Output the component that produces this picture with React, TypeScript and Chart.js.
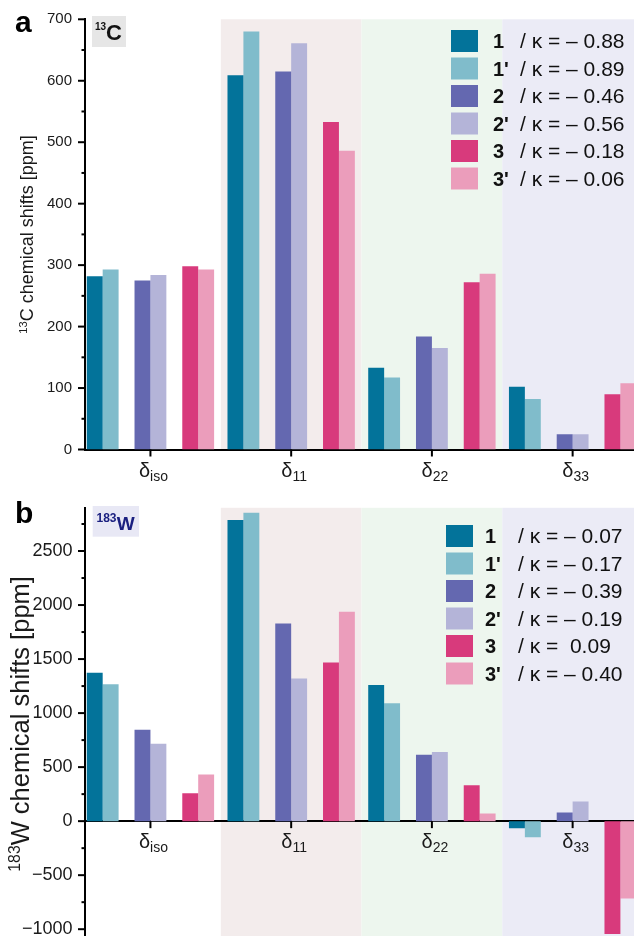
import React, { useEffect, useRef } from 'react';
import { Chart, registerables } from 'chart.js';

Chart.register(...registerables);

const FONT = '"Liberation Sans", Arial, Helvetica, sans-serif';

// ---- data ----
const categories = ['iso', '11', '22', '33'];
const seriesLabels = ['1', "1'", '2', "2'", '3', "3'"];
const seriesColors = ['#03739a', '#80bccb', '#6468b0', '#b4b4d8', '#d83a7c', '#eb9dbb'];
const bandColors = ['#f3ecec', '#edf6ee', '#ebebf6'];

// panel a: 13C
const carbon1 = [282, 609, 133, 102];
const carbon1p = [293, 680, 117, 82];
const carbon2 = [275, 615, 184, 25];
const carbon2p = [284, 661, 165, 25];
const carbon3 = [298, 533, 272, 90];
const carbon3p = [293, 486, 286, 108];
const carbonKappa = ['– 0.88', '– 0.89', '– 0.46', '– 0.56', '– 0.18', '– 0.06'];
const carbonTicks = [0, 100, 200, 300, 400, 500, 600, 700];

// panel b: 183W
const tungsten1 = [1373, 2787, 1259, -65];
const tungsten1p = [1266, 2855, 1090, -148];
const tungsten2 = [845, 1830, 614, 80];
const tungsten2p = [716, 1321, 639, 181];
const tungsten3 = [259, 1469, 333, -1044];
const tungsten3p = [431, 1938, 71, -716];
const tungstenKappa = ['– 0.07', '– 0.17', '– 0.39', '– 0.19', ' 0.09', '– 0.40'];
const tungstenTicks = [-1000, -500, 0, 500, 1000, 1500, 2000, 2500];

type PanelSpec = {
  key: 'a' | 'b';
  series: number[][];
  kappa: string[];
  yTicks: number[];
  minorStep: number;
  yMin: number;
  yMax: number;
  canvasHeight: number;
  padTop: number;
  xAxisHeight: number;
  tickSize: number;
  tickPad: number;
  title: { sup: string; main: string; size: number; cx: number };
  nucleus: { sup: string; main: string; box: [number, number, number, number]; boxColor: string; color: string; supX: number; supY: number; mainX: number; mainY: number; supSize: number; mainSize: number };
  letterY: number;
  legend: { boxX: number; numX: number; textX: number; y0: number };
};

function fmtNum(v: number) {
  return v < 0 ? '\u2212' + Math.abs(v) : String(v);
}

function makeDatasets(series: number[][]) {
  const order = [0, 1, -1, 2, 3, -1, 4, 5];
  return order.map((k, j) => ({
    label: k >= 0 ? seriesLabels[k] : 'gap' + j,
    data: categories.map((_, i) => ({ x: i, y: k >= 0 ? series[k][i] : null })),
    backgroundColor: k >= 0 ? seriesColors[k] : 'rgba(0,0,0,0)',
    borderWidth: 0,
    categoryPercentage: 0.905,
    barPercentage: 1,
  }));
}

function drawTitle(ctx: CanvasRenderingContext2D, sup: string, main: string, size: number, cx: number, cy: number) {
  const supSize = size * 0.62;
  ctx.save();
  ctx.translate(cx, cy);
  ctx.rotate(-Math.PI / 2);
  ctx.font = `${supSize}px ${FONT}`;
  const ws = ctx.measureText(sup).width;
  ctx.font = `${size}px ${FONT}`;
  const wm = ctx.measureText(main).width;
  const start = -(ws + wm) / 2;
  const base = size * 0.36;
  ctx.fillStyle = '#1a1a1a';
  ctx.textAlign = 'left';
  ctx.textBaseline = 'alphabetic';
  ctx.font = `${supSize}px ${FONT}`;
  ctx.fillText(sup, start, base - size * 0.36);
  ctx.font = `${size}px ${FONT}`;
  ctx.fillText(main, start + ws, base);
  ctx.restore();
}

function panelPlugin(p: PanelSpec) {
  return {
    id: 'panel-' + p.key,
    beforeDraw(chart: any) {
      const { ctx, chartArea: a, scales } = chart;
      const x = scales.x;
      ctx.save();
      bandColors.forEach((c, k) => {
        const i = k + 1;
        const x0 = x.getPixelForValue(i - 0.5);
        const x1 = k === bandColors.length - 1 ? a.right : x.getPixelForValue(i + 0.5);
        ctx.fillStyle = c;
        ctx.fillRect(x0, a.top, x1 - x0, a.bottom - a.top);
      });
      ctx.restore();
    },
    afterDraw(chart: any) {
      const { ctx, chartArea: a, scales } = chart;
      const x = scales.x;
      const y = scales.y;
      ctx.save();
      // y tick marks
      ctx.strokeStyle = '#000';
      ctx.lineWidth = 2;
      const major = p.yTicks[1] - p.yTicks[0];
      for (let v = Math.ceil(p.yMin / p.minorStep) * p.minorStep; v <= p.yMax; v += p.minorStep) {
        const py = y.getPixelForValue(v);
        const len = v % major === 0 ? 7 : 3.5;
        ctx.beginPath();
        ctx.moveTo(a.left - len, py);
        ctx.lineTo(a.left, py);
        ctx.stroke();
      }
      // x tick marks + labels
      const axisY = p.key === 'a' ? a.bottom : y.getPixelForValue(0);
      categories.forEach((sub, i) => {
        const px = x.getPixelForValue(i);
        ctx.strokeStyle = '#000';
        ctx.lineWidth = 2;
        ctx.beginPath();
        ctx.moveTo(px, axisY);
        ctx.lineTo(px, axisY + 7);
        ctx.stroke();
        ctx.font = `20px ${FONT}`;
        const wd = ctx.measureText('δ').width;
        ctx.font = `14px ${FONT}`;
        const wsub = ctx.measureText(sub).width;
        const left = px + 3 - (wd + wsub) / 2;
        ctx.fillStyle = '#1a1a1a';
        ctx.textAlign = 'left';
        ctx.textBaseline = 'alphabetic';
        ctx.font = `20px ${FONT}`;
        ctx.fillText('δ', left, axisY + 27);
        ctx.font = `14px ${FONT}`;
        ctx.fillText(sub, left + wd, axisY + 31);
      });
      // y title
      drawTitle(ctx, p.title.sup, p.title.main, p.title.size, p.title.cx, (a.top + a.bottom) / 2);
      // nucleus label
      const n = p.nucleus;
      ctx.fillStyle = n.boxColor;
      ctx.fillRect(n.box[0], n.box[1], n.box[2], n.box[3]);
      ctx.fillStyle = n.color;
      ctx.textAlign = 'left';
      ctx.textBaseline = 'alphabetic';
      ctx.font = `bold ${n.supSize}px ${FONT}`;
      ctx.fillText(n.sup, n.supX, n.supY);
      ctx.font = `bold ${n.mainSize}px ${FONT}`;
      ctx.fillText(n.main, n.mainX, n.mainY);
      // panel letter
      ctx.fillStyle = '#000';
      ctx.font = `bold 30px ${FONT}`;
      ctx.fillText(p.key, 15, p.letterY);
      // legend
      seriesLabels.forEach((lab, k) => {
        const cy = p.legend.y0 + k * 27.5;
        ctx.fillStyle = seriesColors[k];
        ctx.fillRect(p.legend.boxX, cy - 11, 27, 22);
        ctx.fillStyle = '#111';
        ctx.font = `bold 20px ${FONT}`;
        ctx.fillText(lab, p.legend.numX, cy + 7.4);
        ctx.font = `21px ${FONT}`;
        ctx.fillText('/ κ = ' + p.kappa[k], p.legend.textX, cy + 7.4);
      });
      ctx.restore();
    },
  };
}

function buildChart(canvas: HTMLCanvasElement, p: PanelSpec) {
  return new Chart(canvas, {
    type: 'bar',
    data: { datasets: makeDatasets(p.series) as any },
    options: {
      responsive: false,
      maintainAspectRatio: false,
      devicePixelRatio: 1,
      animation: false,
      layout: { padding: { top: p.padTop, left: 0, right: 3, bottom: 0 } },
      plugins: { legend: { display: false }, tooltip: { enabled: false } },
      scales: {
        x: {
          type: 'linear',
          min: -0.465,
          max: 3.5,
          offset: false,
          bounds: 'data',
          position: p.key === 'a' ? 'bottom' : ({ y: 0 } as any),
          afterBuildTicks: (s: any) => {
            s.ticks = categories.map((_, i) => ({ value: i }));
          },
          afterFit: (s: any) => {
            if (p.key === 'a') s.height = p.xAxisHeight;
            s.paddingLeft = 0;
            s.paddingRight = 0;
          },
          ticks: { display: false },
          grid: { display: false, drawTicks: false, offset: false },
          border: { display: true, color: '#000', width: 2 },
        },
        y: {
          type: 'linear',
          min: p.yMin,
          max: p.yMax,
          bounds: 'data',
          afterBuildTicks: (s: any) => {
            s.ticks = p.yTicks.map((v) => ({ value: v }));
          },
          afterFit: (s: any) => {
            s.width = 85;
            s.paddingTop = 0;
            s.paddingBottom = 0;
          },
          ticks: {
            autoSkip: false,
            padding: p.tickPad,
            color: '#1a1a1a',
            font: { family: FONT, size: p.tickSize },
            callback: (v: any) => fmtNum(Number(v)),
          },
          grid: { display: false, drawTicks: false },
          border: { display: true, color: '#000', width: 2 },
        },
      },
    } as any,
    plugins: [panelPlugin(p) as any],
  });
}

const panelA: PanelSpec = {
  key: 'a',
  series: [carbon1, carbon1p, carbon2, carbon2p, carbon3, carbon3p],
  kappa: carbonKappa,
  yTicks: carbonTicks,
  minorStep: 50,
  yMin: 0,
  yMax: 700,
  canvasHeight: 488,
  padTop: 19.3,
  xAxisHeight: 38.5,
  tickSize: 15,
  tickPad: 13,
  title: { sup: '13', main: 'C chemical shifts [ppm]', size: 18, cx: 27 },
  nucleus: { sup: '13', main: 'C', box: [92, 16, 34, 31], boxColor: '#e6e6e6', color: '#111', supX: 95, supY: 30, mainX: 106, mainY: 40, supSize: 10, mainSize: 22 },
  letterY: 32,
  legend: { boxX: 451, numX: 493, textX: 520, y0: 41 },
};

const panelB: PanelSpec = {
  key: 'b',
  series: [tungsten1, tungsten1p, tungsten2, tungsten2p, tungsten3, tungsten3p],
  kappa: tungstenKappa,
  yTicks: tungstenTicks,
  minorStep: 250,
  yMin: -1100,
  yMax: 2900,
  canvasHeight: 452,
  padTop: 19.8,
  xAxisHeight: 0,
  tickSize: 18,
  tickPad: 12.5,
  title: { sup: '183', main: 'W chemical shifts [ppm]', size: 25.5, cx: 20 },
  nucleus: { sup: '183', main: 'W', box: [92.7, 18, 46.3, 30.7], boxColor: '#e8e8f5', color: '#1b2080', supX: 96.5, supY: 33.7, mainX: 116.7, mainY: 42, supSize: 12, mainSize: 19 },
  letterY: 35,
  legend: { boxX: 446, numX: 485, textX: 518, y0: 48 },
};

export default function App() {
  const refA = useRef<HTMLCanvasElement>(null);
  const refB = useRef<HTMLCanvasElement>(null);

  useEffect(() => {
    Chart.defaults.font.family = FONT;
    const ca = refA.current ? buildChart(refA.current, panelA) : null;
    const cb = refB.current ? buildChart(refB.current, panelB) : null;
    return () => {
      ca?.destroy();
      cb?.destroy();
    };
  }, []);

  return (
    <div style={{ position: 'fixed', left: 0, top: 0, width: 634, height: 936, overflow: 'hidden', background: '#fff' }}>
      <canvas ref={refA} width={646} height={panelA.canvasHeight} style={{ position: 'absolute', left: 0, top: 0 }} />
      <canvas ref={refB} width={646} height={panelB.canvasHeight} style={{ position: 'absolute', left: 0, top: 488 }} />
    </div>
  );
}
